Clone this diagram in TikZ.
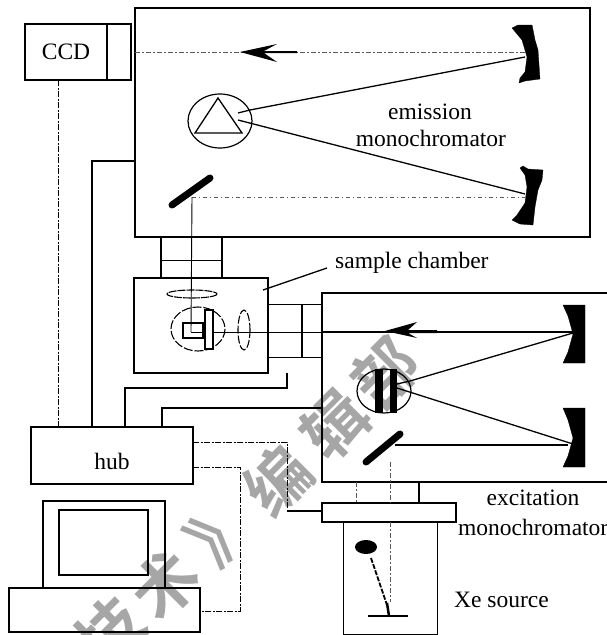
\documentclass[tikz,border=0pt]{standalone}
\usepackage{fontspec}
\setmainfont{Liberation Serif}
\newfontfamily\cjkfont{Noto Sans CJK SC}[BoldFont={Noto Sans CJK SC Bold}]
\tikzset{
  x=1pt,y=-1pt,
  framebox/.style={draw,line width=1.5pt,inner sep=0pt,outer sep=0pt},
  wire/.style={line width=1.2pt},
  thinwire/.style={line width=0.9pt},
  dashwire/.style={line width=0.9pt,dash pattern=on 6pt off 1.5pt on 2pt off 1.5pt},
  greydash/.style={line width=0.7pt,black!65,dash pattern=on 5pt off 2pt on 2pt off 2pt},
  ray/.style={line width=1.3pt},
  solidblack/.style={fill=black,draw=black,line width=0.3pt},
  thickbar/.style={line width=7pt,line cap=round},
  txtlab/.style={inner sep=0pt,font=\fontsize{23.5}{23.5}\selectfont},
  wmark/.style={inner sep=0pt,text=black!35,rotate=45,font=\cjkfont\bfseries\fontsize{64}{64}\selectfont},
}
\begin{document}
\begin{tikzpicture}
\useasboundingbox (0,0) rectangle (607,635);
% watermark
\node[wmark] (w1) at (110,632) {技};
\node[wmark] (w2) at (165,585) {术};
\node[wmark] (w3) at (222,530) {》};
\node[wmark] (w4) at (278,480) {编};
\node[wmark] (w5) at (335,425) {辑};
\node[wmark] (w6) at (385,372) {部};
% frames
\node[framebox,minimum width=455pt,minimum height=229pt,anchor=north west] (em) at (135,8) {};
\node[framebox,minimum width=134pt,minimum height=95pt,anchor=north west] (sc) at (134,278) {};
\node[framebox,minimum width=106pt,minimum height=56pt,anchor=north west] (ccd) at (25,24) {};
\node[framebox,minimum width=162pt,minimum height=57pt,anchor=north west] (hub) at (31,427) {};
\node[framebox,minimum width=122pt,minimum height=87pt,anchor=north west,line width=1.2pt] (mon) at (43,501) {};
\node[framebox,minimum width=89pt,minimum height=65pt,anchor=north west,line width=1.2pt] (scr) at (59,510) {};
\node[framebox,minimum width=191pt,minimum height=44pt,anchor=north west,line width=1.2pt] (kbd) at (9,588) {};
\node[framebox,minimum width=134pt,minimum height=19pt,anchor=north west,line width=1.2pt] (shut) at (322,503) {};
\node[framebox,minimum width=94pt,minimum height=112pt,anchor=north west,line width=1pt] (xe) at (343,522) {};
% excitation box open to the right
\coordinate (exTR) at (607,293);
\coordinate (exTL) at (322,293);
\coordinate (exBL) at (322,482);
\coordinate (exBR) at (607,482);
\draw[line width=1.5pt] (exTR) -- (exTL) -- (exBL) -- (exBR);
% CCD divider
\draw[line width=2pt] (ccd.north -| 107,0) -- (ccd.south -| 107,0);
% texts
\node[txtlab] (t1) at (66,52) {CCD};
\node[txtlab] (t2) at (430,112) {emission};
\node[txtlab] (t3) at (431,138) {monochromator};
\node[txtlab,anchor=west] (t4) at (335,263) {sample chamber};
\node[txtlab] (t5) at (112,461) {hub};
\node[txtlab] (t6) at (533,498) {excitation};
\node[txtlab,anchor=west] (t7) at (458,527) {monochromator};
\node[txtlab,anchor=west] (t8) at (454,600) {Xe source};
% wiring
\draw[dashwire] (ccd.south -| 58,0) -- (hub.north -| 58,0);
\draw[wire,line width=1.5pt] (hub.north -| 92,0) -- (92,161) -- (em.west |- 0,161);
\draw[wire] (hub.north -| 125,0) -- (125,388) -- (287,388) -- (sc.south -| 287,0);
\draw[wire] (hub.north -| 162,0) -- (162,408) -- (exBL |- 0,408);
\draw[dashwire] (hub.east |- 0,442) -- (287,442) -- (287,511);
\draw[wire] (287,511) -- (shut.west |- 0,511);
\draw[dashwire] (hub.east |- 0,467) -- (240,467) -- (240,611) -- (kbd.east |- 0,611);
\draw[line width=2pt] (exBL -| 419,0) -- (shut.north -| 419,0);
\draw[greydash] (exBL -| 356,0) -- (shut.north -| 356,0);
\draw[greydash] (390,462) -- (390,503);
\draw[greydash] (390,522) -- (390,602);
% top coupler
\draw[wire] (161,237) -- (161,278);
\draw[line width=1.6pt] (222,237) -- (222,278);
\draw[thinwire] (161,260) -- (222,260);
% right coupler
\draw[thinwire] (268,304) -- (322,304);
\draw[thinwire] (268,357) -- (322,357);
\draw[wire] (302,304) -- (302,357);
% leader
\draw[ray] (263,290) -- (327,268);
% emission internals
\draw[greydash] (135,52) -- (525,52);
\fill (240,52) -- (277,44) -- (264,51) -- (297,51) -- (297,53) -- (264,53) -- (277,62) -- cycle;
\draw[ray] (525,57) -- (250,110) -- (238,113);
\draw[ray] (525,194) -- (238,120);
\draw[line width=1.2pt] (220,121) ellipse [x radius=32,y radius=27];
\draw[line width=1.3pt] (195,133) -- (218,98) -- (242,133) -- cycle;
\draw[thickbar] (172,205) -- (210,178);
\draw[greydash,dash pattern=on 4pt off 3pt on 1pt off 3pt] (192,197) -- (525,197);
\draw[thinwire] (192,197) -- (191,332);
\path[solidblack] (512,28) -- (518,25) -- (532,25) -- (535,40) -- (538,50) -- (540,79) -- (525,81) -- (519,83) -- (520,78) -- (525,72) -- (527,57) -- (522,40) -- cycle;
\path[solidblack] (520,168) -- (523,166) -- (528,169) -- (543,170) -- (542,180) -- (538,190) -- (535,207) -- (533,225) -- (520,224) -- (512,220) -- (517,215) -- (525,203) -- (527,187) -- (525,175) -- cycle;
% sample chamber internals
\draw[line width=1.1pt,dash pattern=on 8pt off 1pt] (192,294) ellipse [x radius=25,y radius=4];
\draw[line width=1.1pt,dash pattern=on 8pt off 2pt] (244,330) ellipse [x radius=6,y radius=20];
\draw[line width=1.1pt,dash pattern=on 9pt off 2pt] (198,329) ellipse [x radius=27,y radius=22];
\draw[line width=1.2pt] (183,323) rectangle (203,338);
\draw[thinwire] (191,332) -- (322,332);
\draw[line width=2.4pt,fill=white] (205,310) rectangle (213,349);
% excitation internals
\draw[line width=1.2pt] (322,332) -- (573,332);
\fill (385,331) -- (417,322) -- (408,330) -- (437,330) -- (437,333) -- (408,333) -- (417,338) -- cycle;
\draw[ray] (573,333) -- (410,381) -- (397,384);
\draw[ray] (573,444) -- (397,388);
\draw[line width=1.2pt] (384,391) ellipse [x radius=27,y radius=22];
\fill (375,369) rectangle (383,413);
\fill (390,369) rectangle (397,413);
\draw[thickbar] (366,462) -- (400,434);
\draw[line width=1.2pt] (395,445) -- (568,445);
\path[solidblack] (563,305) -- (585,305) -- (585,363) -- (563,363) -- (568,352) -- (573,334) -- (568,316) -- cycle;
\path[solidblack] (563,408) -- (585,408) -- (585,467) -- (563,467) -- (568,456) -- (573,438) -- (568,420) -- cycle;
% Xe lamp
\fill (366,547) ellipse [x radius=11,y radius=7];
\draw[line width=1.8pt,dash pattern=on 5pt off 1.5pt] (371,558) -- (387,605);
\draw[line width=2.5pt] (387,603) -- (389,616);
\draw[line width=1.1pt] (368,616) -- (408,616);
\end{tikzpicture}
\end{document}
